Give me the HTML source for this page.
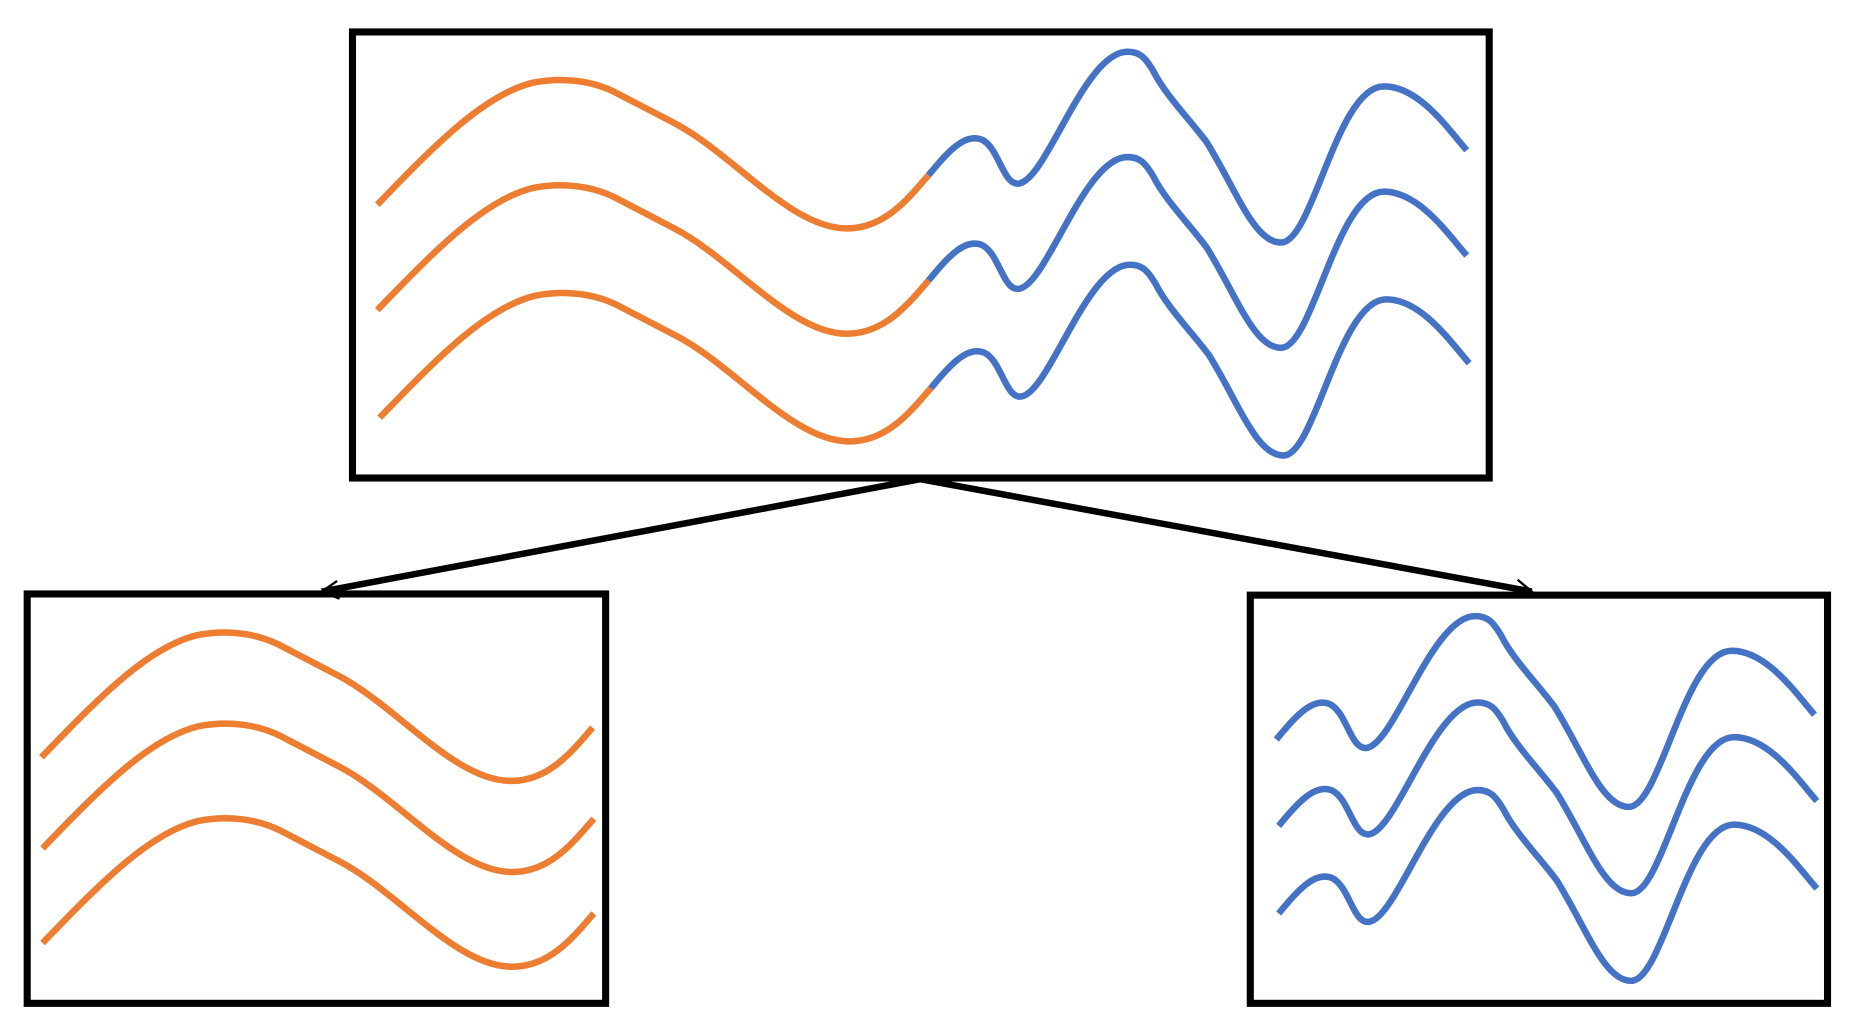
<!DOCTYPE html>
<html><head><meta charset="utf-8"><style>html,body{margin:0;padding:0;background:#fff}svg{display:block}</style></head>
<body>
<svg width="1850" height="1027" viewBox="0 0 1564 868" preserveAspectRatio="none" xmlns="http://www.w3.org/2000/svg">
<defs>
<path id="or" fill="none" stroke="#ED7D31" stroke-width="5.5" d="M319,173 C370,120 410,80 450,70 C475,65 500,68 520,78 L570,104 C620,130 670,195 718,193 C750,192 770,165 785,148"/>
<path id="bl" fill="none" stroke="#4472C4" stroke-width="5.5" d="M785,148 C800,130 815,112 830,118 C845,125 848,158 862,155 C885,150 915,50 950,44 C965,42 970,52 975,60 C985,80 1005,100 1020,120 C1045,160 1060,205 1083,205 C1110,205 1130,73 1170,73 C1200,73 1225,110 1240,127"/>
</defs>
<rect x="298" y="27" width="961" height="377" fill="none" stroke="#000" stroke-width="6"/>
<rect x="23" y="502" width="489" height="346" fill="none" stroke="#000" stroke-width="6"/>
<rect x="1057" y="503" width="488" height="345" fill="none" stroke="#000" stroke-width="6"/>
<use href="#or"/><use href="#bl"/>
<use href="#or" transform="translate(0,89)"/><use href="#bl" transform="translate(0,89)"/>
<use href="#or" transform="translate(2,180)"/><use href="#bl" transform="translate(2,180)"/>
<use href="#or" transform="translate(-284,467)"/>
<use href="#or" transform="translate(-283,544)"/>
<use href="#or" transform="translate(-283,624)"/>
<use href="#bl" transform="translate(294,477)"/>
<use href="#bl" transform="translate(296,550)"/>
<use href="#bl" transform="translate(296,624)"/>
<line x1="778" y1="405" x2="272" y2="500" stroke="#000" stroke-width="5.5"/>
<line x1="778" y1="405" x2="1295" y2="500" stroke="#000" stroke-width="5.5"/>
<path d="M285,491 L272,500 L287,506" fill="none" stroke="#000" stroke-width="2"/>
<path d="M1283,490 L1295,500 L1281,505" fill="none" stroke="#000" stroke-width="2"/>
</svg>
</body></html>
